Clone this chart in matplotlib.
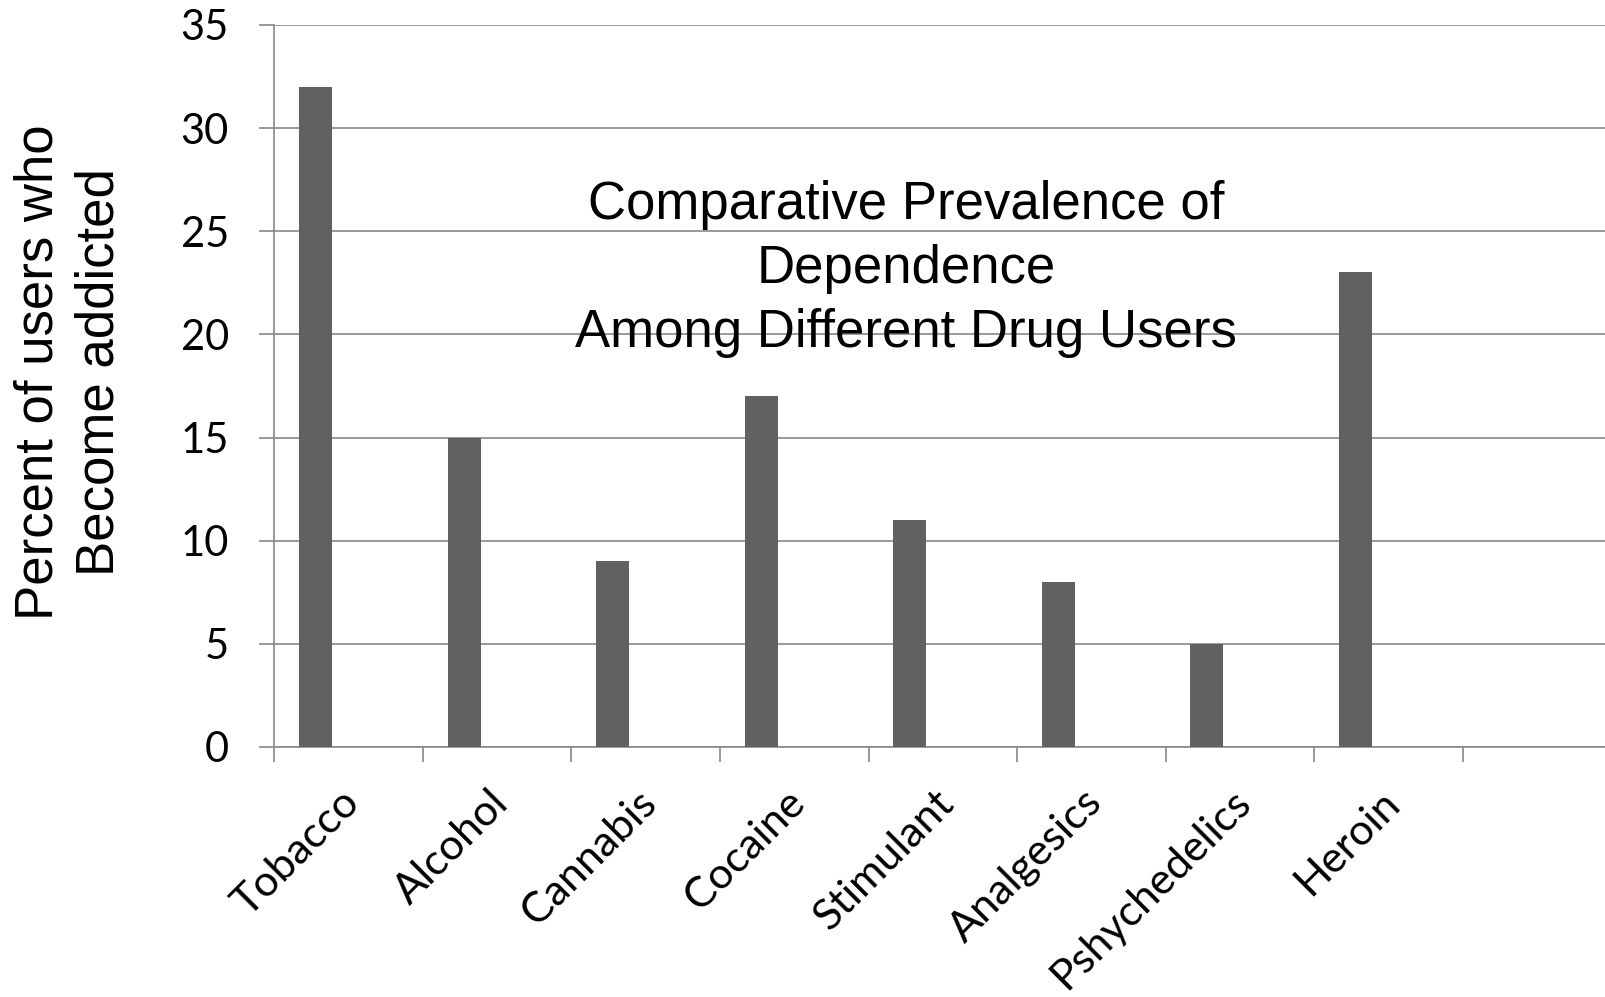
import numpy as np
import matplotlib
matplotlib.use("Agg")
import matplotlib.pyplot as plt
import matplotlib.transforms as mtransforms

# Datos de dependencia por droga
drogas = ["Tobacco", "Alcohol", "Cannabis", "Cocaine", "Stimulant",
          "Analgesics", "Pshychedelics", "Heroin"]
porcentaje = [32, 15, 9, 17, 11, 8, 5, 23]
yticks = [0, 5, 10, 15, 20, 25, 30, 35]

titulo = "Comparative Prevalence of\nDependence\nAmong Different Drug Users"
etiqueta_y = "Percent of users who\nBecome addicted"

gris = "#898989"
barra = "#616161"

fig = plt.figure(figsize=(16.06, 9.97), dpi=100)
ax = fig.add_axes([0.1709, 0.2508, 0.8291, 0.7242])

# cada categoria ocupa una casilla de ancho 1 (hay una casilla vacia al final)
x = np.arange(len(drogas))
ax.bar(x + 0.279, porcentaje, width=0.222, color=barra, zorder=3)

ax.set_xlim(0, 8.966)
ax.set_ylim(0, 35)

# lineas de cuadricula
ax.set_yticks(yticks)
ax.yaxis.grid(True, color=gris, linewidth=1.2, zorder=0)
for s in ["top", "right"]:
    ax.spines[s].set_visible(False)
for s in ["left", "bottom"]:
    ax.spines[s].set_color(gris)
    ax.spines[s].set_linewidth(1.2)

# marcas en los limites de las casillas, etiquetas en el centro
ax.set_xticks(np.arange(0, 9))
ax.set_xticklabels([])
ax.set_xticks(x + 0.5, minor=True)
ax.set_xticklabels(drogas, minor=True, rotation=45, ha="right", va="top",
                   fontfamily="Lato", fontsize=31)
ax.tick_params(axis="x", which="major", length=10.8, width=1.2, color=gris)
ax.tick_params(axis="x", which="minor", length=0, pad=26)
ax.tick_params(axis="y", length=10.8, width=1.2, color=gris, pad=22)
for lbl in ax.get_yticklabels():
    lbl.set_fontfamily("Lato")
    lbl.set_fontsize(30)

offset = mtransforms.ScaledTranslation(18 / 100, 0, fig.dpi_scale_trans)
for lbl in ax.xaxis.get_minorticklabels():
    lbl.set_transform(lbl.get_transform() + offset)

fig.text(906 / 1606, 1 - 269 / 997, titulo, ha="center", va="center",
         fontfamily="Liberation Sans", fontsize=38, multialignment="center",
         linespacing=1.36)
fig.text(69 / 1606, 1 - 372 / 997, etiqueta_y, ha="center", va="center",
         rotation=90, fontfamily="Liberation Sans", fontsize=38,
         multialignment="center", linespacing=1.28)

fig.savefig("out.png", dpi=100)
